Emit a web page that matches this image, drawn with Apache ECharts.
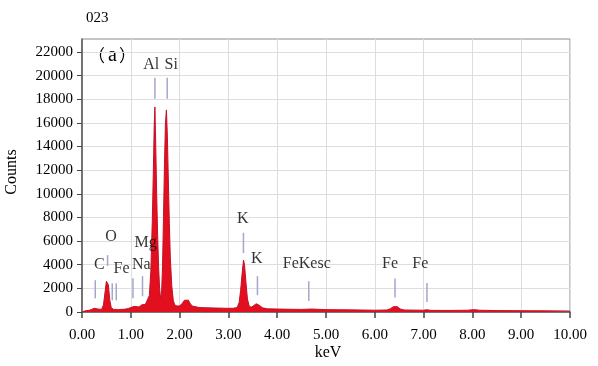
<!DOCTYPE html>
<html>
<head>
<meta charset="utf-8">
<script src="https://cdn.jsdelivr.net/npm/echarts@6/dist/echarts.min.js"></script>
<style>html,body{margin:0;padding:0;background:#fff}#c{width:598px;height:366px}</style>
</head>
<body>
<div id="c"></div>
<script>
// Spectrum (keV, counts)
var energy = [0.00,0.05,0.10,0.15,0.20,0.25,0.28,0.32,0.36,0.40,0.44,0.47,0.50,0.52,0.54,0.57,0.60,0.65,0.70,0.75,0.80,0.85,0.90,0.95,1.00,1.04,1.08,1.12,1.17,1.22,1.26,1.30,1.34,1.38,1.41,1.44,1.46,1.48,1.494,1.51,1.53,1.55,1.57,1.59,1.61,1.63,1.65,1.67,1.69,1.71,1.73,1.75,1.77,1.79,1.81,1.84,1.87,1.90,1.95,2.00,2.05,2.10,2.14,2.18,2.22,2.26,2.30,2.40,2.50,2.60,2.70,2.80,2.90,3.00,3.10,3.18,3.22,3.25,3.28,3.31,3.33,3.36,3.39,3.43,3.48,3.52,3.57,3.60,3.64,3.70,3.80,4.00,4.30,4.50,4.70,5.00,5.50,6.00,6.25,6.32,6.38,6.42,6.46,6.52,6.60,7.00,7.06,7.15,7.50,7.90,8.03,8.15,8.50,9.00,9.50,10.00];
var counts = [0,80,120,150,220,320,360,260,180,220,600,1600,2600,2750,2300,1000,350,220,220,200,220,230,250,300,380,470,480,400,420,600,700,650,800,1400,3400,7600,11500,15800,17350,14300,10000,6500,3800,2000,1200,1500,3800,8000,12500,16000,17100,14800,11000,7500,4600,2200,1000,600,500,520,700,1000,1150,1000,700,500,420,380,360,350,340,330,320,310,320,380,800,1800,3200,4400,4000,2500,1100,450,420,500,700,720,550,350,270,250,230,220,250,200,180,150,170,280,450,530,450,260,170,150,190,140,130,150,200,150,120,110,100,80];

// Element marker lines: energy, lower and upper counts
var markerKeV  = [0.272,0.524,0.620,0.702,1.044,1.240,1.494,1.746,3.308,3.595,4.647,6.414,7.069];
var markerLow  = [1160,3900,990,990,1160,1330,18040,18040,4980,1420,930,1220,850];
var markerHigh = [2690,4810,2430,2430,2860,3030,19820,19820,6700,3030,2600,2830,2460];

// Element labels: text and centre position (keV, counts)
var labelText = ['C','O','Fe','Na','Mg','Al','Si','K','K','FeKesc','Fe','Fe'];
var labelKeV  = [0.354,0.594,0.811,1.214,1.302,1.419,1.828,3.296,3.582,4.606,6.311,6.931];
var labelCnt  = [3960,6360,3650,3960,5890,20920,20920,7920,4470,4050,4050,4050];

var yTicks = [0,2000,4000,6000,8000,10000,12000,14000,16000,18000,20000,22000];

var serif = '"Liberation Serif","Times New Roman",serif';

var spec = energy.map(function(e,i){return [e, counts[i]];});
var markers = markerKeV.map(function(e,i){return [e, markerLow[i], markerHigh[i]];});
var labels = labelKeV.map(function(e,i){return {value:[e, labelCnt[i]], name: labelText[i]};});

var chart = echarts.init(document.getElementById('c'), null, {renderer:'canvas'});
chart.setOption({
  animation:false,
  backgroundColor:'#fff',
  grid:{left:82,right:28,top:39,bottom:54,show:true,borderColor:'#8a8a8a',borderWidth:1,backgroundColor:'transparent'},
  xAxis:{type:'value',min:0,max:10,interval:1,
    axisLine:{show:true,lineStyle:{color:'#555',width:1.5}},
    axisTick:{show:true,inside:false,length:6,lineStyle:{color:'#3a4a50',width:1.5}},
    axisLabel:{color:'#000',fontFamily:serif,fontSize:15,margin:16,formatter:function(v){return v.toFixed(2);}},
    splitLine:{show:true,lineStyle:{color:'#dedede',width:1}}
  },
  yAxis:{type:'value',min:0,max:23100,interval:2000,
    axisLine:{show:true,lineStyle:{color:'#555',width:1.5}},
    axisTick:{show:true,length:5,lineStyle:{color:'#3a4a50',width:1},customValues:yTicks},
    axisLabel:{color:'#000',fontFamily:serif,fontSize:15,margin:9,customValues:yTicks,
      formatter:function(v){return String(Math.round(v));}},
    splitLine:{show:true,lineStyle:{color:'#dedede',width:1}}
  },
  graphic:[
    {type:'text',left:86,top:11,style:{text:'023',font:'15px '+serif,fill:'#000'}},
    {type:'text',left:88,top:46,style:{text:'{p|（}{a|a}{p|）}',
      rich:{p:{fontFamily:'"Noto Sans CJK SC"',fontSize:17,fill:'#000'},
            a:{fontFamily:serif,fontSize:20,fill:'#000',padding:[0,2,0,3]}}}},
    {type:'text',x:12,y:172,rotation:Math.PI/2,style:{text:'Counts',font:'16px '+serif,fill:'#000',align:'center',verticalAlign:'middle'}},
    {type:'text',x:328,y:353,style:{text:'keV',font:'16px '+serif,fill:'#000',align:'center',verticalAlign:'middle'}}
  ],
  series:[
    {type:'line',data:spec,showSymbol:false,smooth:false,
      lineStyle:{color:'#c4102a',width:1},
      areaStyle:{color:'#e2101e',opacity:1},z:2},
    {type:'custom',z:3,data:markers,
      renderItem:function(params,api){
        var p1 = api.coord([api.value(0), api.value(1)]);
        var p2 = api.coord([api.value(0), api.value(2)]);
        return {type:'line',shape:{x1:p1[0],y1:p1[1],x2:p2[0],y2:p2[1]},
          style:{stroke:'#a3a7cc',lineWidth:1.5}};
      }},
    {type:'scatter',z:4,data:labels,symbolSize:0,
      label:{show:true,position:'inside',formatter:'{b}',color:'#000',fontFamily:serif,fontSize:16}}
  ]
});
</script>
</body>
</html>
